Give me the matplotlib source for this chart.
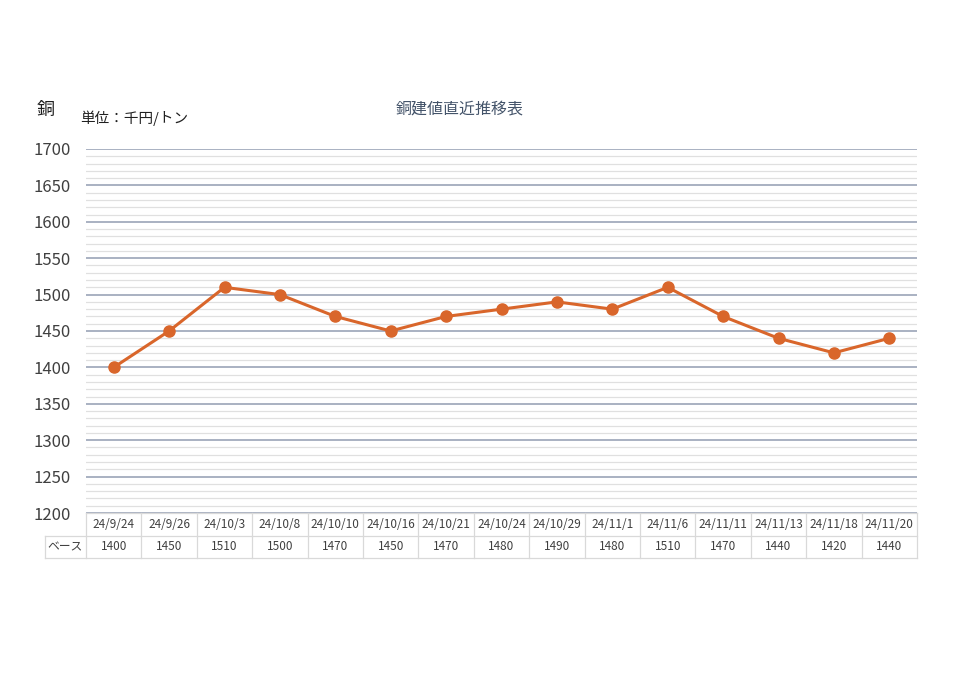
import matplotlib.pyplot as plt
from matplotlib.ticker import MultipleLocator

plt.rcParams['font.family'] = ['Noto Sans CJK JP', 'DejaVu Sans']

dates = ['24/9/24', '24/9/26', '24/10/3', '24/10/8', '24/10/10', '24/10/16', '24/10/21',
         '24/10/24', '24/10/29', '24/11/1', '24/11/6', '24/11/11', '24/11/13', '24/11/18',
         '24/11/20']
prices = [1400, 1450, 1510, 1500, 1470, 1450, 1470, 1480, 1490, 1480, 1510, 1470, 1440, 1420, 1440]
series_name = 'ベース'

W, H = 960, 687
LINE = '#D9662B'
GRID_MAJOR = '#A9B1C2'
GRID_MINOR = '#E0E0E0'
CELL = '#D9D9D9'

fig = plt.figure(figsize=(W / 100, H / 100), dpi=100)
left, right, top, bottom = 86, 917, 149, 513
ax = fig.add_axes([left / W, 1 - bottom / H, (right - left) / W, (bottom - top) / H])

x = list(range(len(dates)))
ax.set_xlim(-0.5, len(dates) - 0.5)
ax.set_ylim(1200, 1700)
ax.yaxis.set_major_locator(MultipleLocator(50))
ax.yaxis.set_minor_locator(MultipleLocator(10))
ax.grid(which='major', axis='y', color=GRID_MAJOR, lw=1.4)
ax.grid(which='minor', axis='y', color=GRID_MINOR, lw=0.9)
ax.set_axisbelow(True)
for s in ax.spines.values():
    s.set_visible(False)
ax.tick_params(axis='y', which='both', length=0, labelsize=12, labelcolor='#404040', pad=11)
ax.tick_params(axis='x', which='both', length=0, labelbottom=False)

ax.plot(x, prices, color=LINE, lw=2.2, marker='o', ms=8, mfc=LINE, mec=LINE, zorder=3)

# data table under the plot
cw = (right - left) / len(dates)
tleft = 45
tab = fig.add_axes([tleft / W, 1 - 558 / H, (right - tleft) / W, (558 - bottom) / H])
tab.set_xlim(-0.5 - (left - tleft) / cw, len(dates) - 0.5)
tab.set_ylim(0, 2)
tab.axis('off')
x0 = -0.5 - (left - tleft) / cw
xe = len(dates) - 0.5
kw = dict(color=CELL, lw=0.9, clip_on=False)
tab.plot([-0.5, xe], [2, 2], **kw)
tab.plot([x0, xe], [1, 1], **kw)
tab.plot([x0, xe], [0, 0], **kw)
tab.plot([x0, x0], [0, 1], **kw)
for i in range(len(dates) + 1):
    tab.plot([i - 0.5, i - 0.5], [0, 2], **kw)
for i, (d, p) in enumerate(zip(dates, prices)):
    tab.text(i, 1.5, d, ha='center', va='center', fontsize=8.5, color='#404040')
    tab.text(i, 0.5, str(p), ha='center', va='center', fontsize=8.5, color='#404040')
tab.text((x0 - 0.5) / 2, 0.5, series_name, ha='center', va='center', fontsize=8.5, color='#404040')

fig.text(460 / W, 1 - 109 / H, '銅建値直近推移表', ha='center', va='center', fontsize=11.5, color='#44546A')
fig.text(37 / W, 1 - 110 / H, '銅', ha='left', va='center', fontsize=13, color='#202020')
fig.text(80 / W, 1 - 118 / H, '単位：千円/トン', ha='left', va='center', fontsize=10.5, color='#202020')

fig.savefig('out.png', dpi=100, facecolor='white')
